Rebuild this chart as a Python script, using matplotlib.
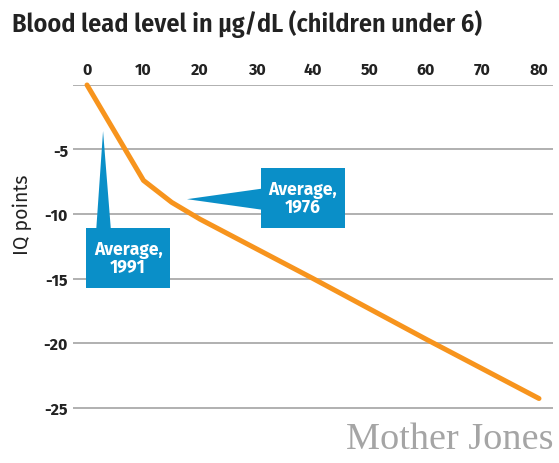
import matplotlib
matplotlib.use('Agg')
import matplotlib.pyplot as plt
from matplotlib.patches import Rectangle, Polygon

# data
lead_level = [0, 10, 15, 20, 40, 60, 80]
iq_change = [0, -7.4, -9.1, -10.4, -15.0, -19.7, -24.3]

x_ticks = [0, 10, 20, 30, 40, 50, 60, 70, 80]
y_ticks = [0, -5, -10, -15, -20, -25]
y_tick_labels = ['', '-5', '-10', '-15', '-20', '-25']

title = 'Blood lead level in μg/dL (children under 6)'
notes = ['Average,\n1976', 'Average,\n1991']

ORANGE = '#f7941d'
BLUE = '#0a8fc8'
GRID = '#a3a3a3'
COND = ['Fira Sans Condensed', 'DejaVu Sans']
SANS = ['Fira Sans', 'DejaVu Sans']

fig = plt.figure(figsize=(5.59, 4.64), dpi=100)
ax = fig.add_axes([73 / 559, 0.1056, 480 / 559, 0.7091])

ax.plot(lead_level, iq_change, color=ORANGE, lw=3.6, solid_capstyle='round',
        clip_on=False, zorder=3)

ax.set_xlim(-2.48, 82.48)
ax.set_ylim(-25.5, 0)

ax.xaxis.tick_top()
ax.set_xticks(x_ticks)
ax.set_xticklabels([str(v) for v in x_ticks])
ax.set_yticks(y_ticks)
ax.set_yticklabels(y_tick_labels)
ax.tick_params(axis='x', length=0, pad=5.5)
ax.tick_params(axis='y', length=0, pad=3.6)
for lab in ax.get_xticklabels() + ax.get_yticklabels():
    lab.set_family(SANS)
    lab.set_fontweight(700)
    lab.set_fontsize(11.5)
    lab.set_color('#222222')

ax.grid(axis='y', color=GRID, lw=1.2)
ax.set_axisbelow(True)
for s in ax.spines.values():
    s.set_visible(False)

# callout boxes
# 1976
ax.add_patch(Polygon([[17.7, -8.85], [31.5, -8.0], [31.5, -9.7]], closed=True,
                     facecolor=BLUE, edgecolor='none', zorder=4))
ax.add_patch(Rectangle((30.86, -11.10), 14.73, 4.66, facecolor=BLUE,
                       edgecolor='none', zorder=4))
ax.text(38.2, -8.77, notes[0], ha='center', va='center', color='white',
        fontweight=700, fontsize=12.5, family=SANS, linespacing=1.0,
        zorder=5)
# 1991
ax.add_patch(Polygon([[2.84, -3.57], [1.6, -11.4], [4.26, -11.4]], closed=True,
                     facecolor=BLUE, edgecolor='none', zorder=4))
ax.add_patch(Rectangle((-0.18, -15.76), 14.9, 4.66, facecolor=BLUE,
                       edgecolor='none', zorder=4))
ax.text(7.27, -13.43, notes[1], ha='center', va='center', color='white',
        fontweight=700, fontsize=12.5, family=SANS, linespacing=1.0,
        zorder=5)

fig.text(12 / 559, 1 - 32 / 464, title, ha='left', va='baseline',
         fontsize=18.8, fontweight=600, family=COND, color='#222222')
fig.text(22 / 559, 1 - 215 / 464, 'IQ points', rotation=90, ha='center',
         va='center', fontsize=14, family=SANS, color='#222222')
fig.text(554 / 559, 1 - 449 / 464, 'Mother Jones', ha='right', va='baseline',
         fontsize=27.5, family=['Liberation Serif', 'DejaVu Serif'],
         color='#a5a5a5')

fig.savefig('out.png', dpi=100)
